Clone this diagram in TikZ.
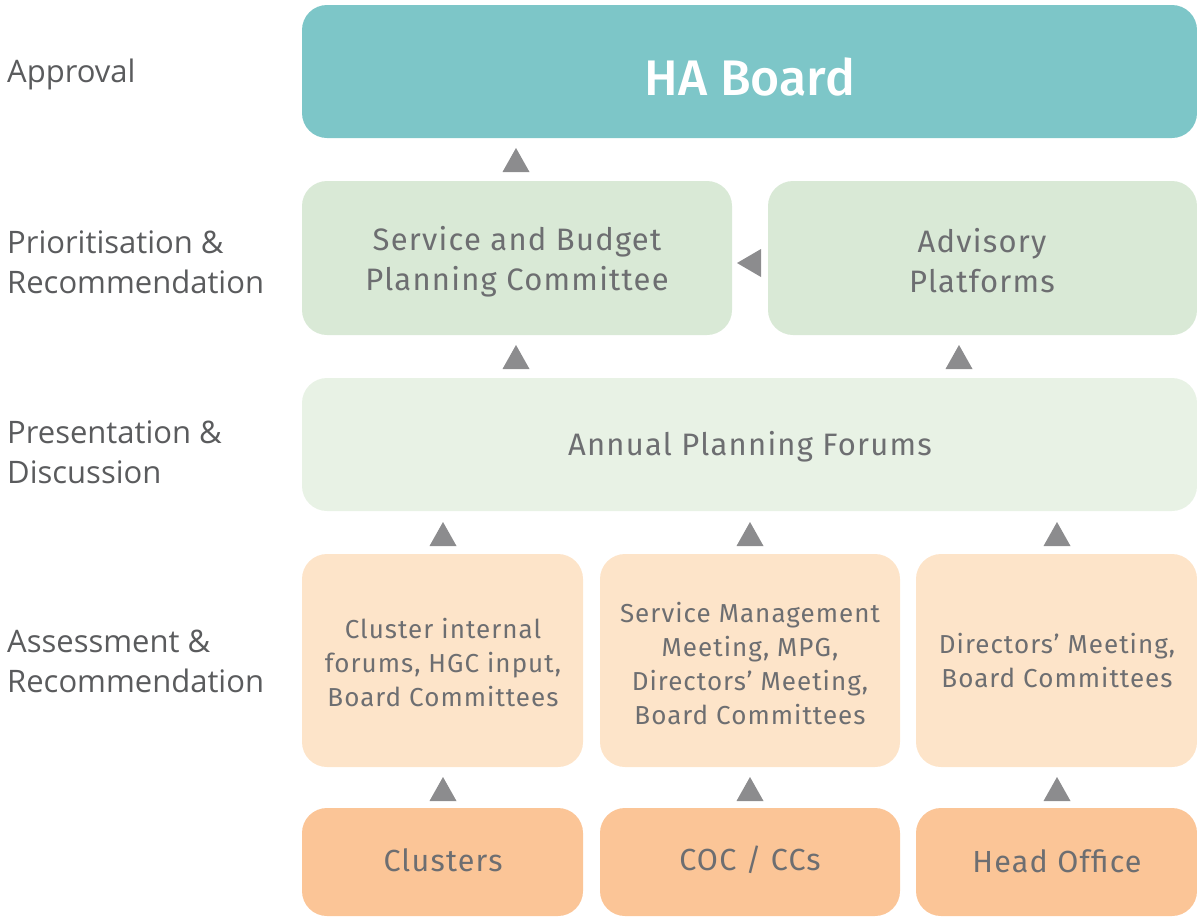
\documentclass[tikz,border=0pt]{standalone}
\usepackage{fontspec}
\setmainfont{Fira Sans}[LetterSpace=4]
\newfontfamily\titlefont{Fira Sans Medium}
\newfontfamily\labelfont{Open Sans}
\usetikzlibrary{positioning}
\definecolor{boardteal}{HTML}{7DC6C8}
\definecolor{prioGreen}{HTML}{D9E9D6}
\definecolor{forumGreen}{HTML}{E8F2E5}
\definecolor{assessPeach}{HTML}{FDE4C9}
\definecolor{sourceOrange}{HTML}{FBC597}
\definecolor{boxtext}{HTML}{6D6E71}
\definecolor{lbltext}{HTML}{5A5B5D}
\definecolor{arrowgrey}{HTML}{8C8C8E}
\tikzset{
  x=1pt, y=-1pt,
  stage/.style={rounded corners=25pt, inner sep=0pt, align=center, text=boxtext},
  uptri/.style={fill=arrowgrey, draw=none},
  stagelabel/.style={anchor=west, align=left, text=lbltext, font=\labelfont\fontsize{31}{40}\selectfont, inner sep=0pt},
  bigtxt/.style={font=\fontsize{31}{40}\selectfont},
  midtxt/.style={font=\fontsize{26}{34}\selectfont},
  srctxt/.style={font=\fontsize{30.5}{34}\selectfont},
}
\begin{document}
\begin{tikzpicture}
\useasboundingbox (0,0) rectangle (1197,916);

% approval tier
\fill[boardteal, rounded corners=25pt] (302,5) rectangle (1197,138);
\node[text=white, font=\titlefont\fontsize{50}{50}\selectfont] (board) at (750,77) {HA Board};

% prioritisation tier
\fill[prioGreen, rounded corners=25pt] (302,181) rectangle (732,335);
\node[stage, bigtxt] (sbpc) at (517,262) {Service and Budget\\Planning Committee};
\fill[prioGreen, rounded corners=25pt] (768,181) rectangle (1197,335);
\node[stage, bigtxt] (adv) at (982,261) {Advisory\\Platforms};

% presentation tier
\fill[forumGreen, rounded corners=25pt] (302,378) rectangle (1197,511);
\node[stage, bigtxt] (apf) at (750,447) {Annual Planning Forums};

% assessment tier
\fill[assessPeach, rounded corners=25pt] (302,554) rectangle (583,767);
\node[stage, midtxt] (clint) at (443,663) {Cluster internal\\forums, HGC input,\\Board Committees};
\fill[assessPeach, rounded corners=25pt] (600,554) rectangle (900,767);
\node[stage, midtxt] (smm) at (750,664) {Service Management\\Meeting, MPG,\\Directors’ Meeting,\\Board Committees};
\fill[assessPeach, rounded corners=25pt] (916,554) rectangle (1197,767);
\node[stage, midtxt] (dm) at (1057,661) {Directors’ Meeting,\\Board Committees};

% source tier
\fill[sourceOrange, rounded corners=25pt] (302,808) rectangle (583,916);
\node[stage, srctxt] (clu) at (443,860) {Clusters};
\fill[sourceOrange, rounded corners=25pt] (600,808) rectangle (900,916);
\node[stage, srctxt] (coc) at (750,860) {COC / CCs};
\fill[sourceOrange, rounded corners=25pt] (916,808) rectangle (1197,916);
\node[stage, srctxt] (ho) at (1057,861) {Head Office};

% flow markers
\foreach \cx/\ty in {516/148, 516/345, 959/345, 443/522, 750/522, 1057/522, 443/777, 750/777, 1057/777}
  \fill[uptri] (\cx,\ty) -- (\cx+13.5,\ty+24) -- (\cx-13.5,\ty+24) -- cycle;
\fill[uptri] (737,263) -- (761,249) -- (761,277) -- cycle;

% stage labels
\node[stagelabel] (l1) at (7,74) {Approval};
\node[stagelabel] (l2) at (7,262) {Prioritisation \&\\Recommendation};
\node[stagelabel] (l3) at (7,452) {Presentation \&\\Discussion};
\node[stagelabel] (l4) at (7,661) {Assessment \&\\Recommendation};
\end{tikzpicture}
\end{document}
